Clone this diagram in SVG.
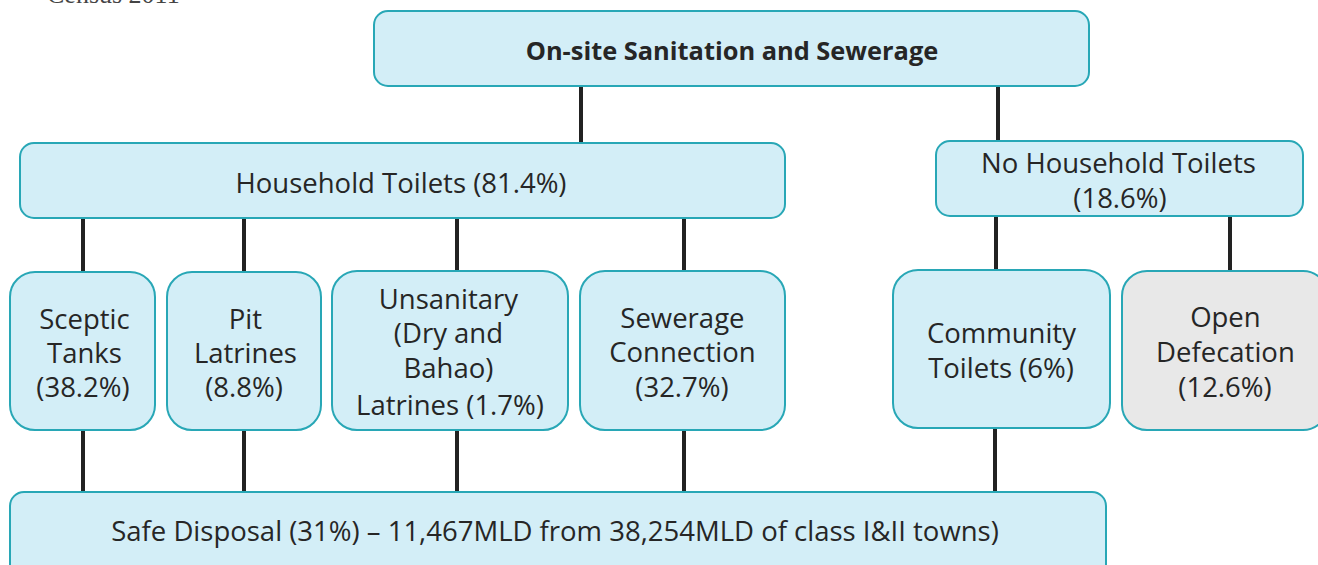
<svg xmlns="http://www.w3.org/2000/svg" width="1318" height="565" viewBox="0 0 1318 565">
<style>
.box{fill:#d3eef7;stroke:#28a7b6;stroke-width:2}
.grey{fill:#e8e8e8;stroke:#28a7b6;stroke-width:2}
.t{font-family:"Open Sans","Noto Sans",sans-serif;font-size:27.5px;fill:#262626;text-anchor:middle;white-space:pre}
.b{font-weight:bold;font-size:25.4px}
.conn line{stroke:#222;stroke-width:4}
</style>
<rect width="1318" height="565" fill="#fff"/>
<text x="47" y="3" font-family="Liberation Serif, serif" font-size="26" fill="#444">Census 2011</text>
<g class="conn">
<line x1="581" y1="86" x2="581" y2="143"/>
<line x1="998" y1="86" x2="998" y2="141"/>
<line x1="83" y1="218" x2="83" y2="272"/>
<line x1="244" y1="218" x2="244" y2="272"/>
<line x1="457" y1="218" x2="457" y2="271"/>
<line x1="684" y1="218" x2="684" y2="271"/>
<line x1="996" y1="216" x2="996" y2="270"/>
<line x1="1230" y1="216" x2="1230" y2="271"/>
<line x1="83" y1="430" x2="83" y2="493"/>
<line x1="244" y1="430" x2="244" y2="493"/>
<line x1="457" y1="430" x2="457" y2="493"/>
<line x1="684" y1="430" x2="684" y2="493"/>
<line x1="995" y1="428" x2="995" y2="493"/>
</g>
<g id="top">
<rect class="box" x="374" y="11" width="715" height="75" rx="14"/>
<text class="t b" x="732" y="60">On-site Sanitation and Sewerage</text>
</g>
<g id="household">
<rect class="box" x="20" y="143" width="765" height="75" rx="14"/>
<text class="t" x="401" y="193" font-size="26.8">Household Toilets (81.4%)</text>
</g>
<g id="nohousehold">
<rect class="box" x="936" y="141" width="367" height="75" rx="14"/>
<text class="t" x="1122" y="173">No Household Toilets </text>
<text class="t" x="1120" y="208">(18.6%)</text>
</g>
<g id="sceptic">
<rect class="box" x="10" y="272" width="145" height="158" rx="25"/>
<text class="t" x="88" y="329">Sceptic </text>
<text class="t" x="88" y="363">Tanks </text>
<text class="t" x="83" y="397">(38.2%)</text>
</g>
<g id="pit">
<rect class="box" x="167" y="272" width="154" height="158" rx="25"/>
<text class="t" x="249" y="329">Pit </text>
<text class="t" x="249" y="363">Latrines </text>
<text class="t" x="244" y="397">(8.8%)</text>
</g>
<g id="unsanitary">
<rect class="box" x="332" y="271" width="236" height="159" rx="25"/>
<text class="t" x="452" y="309">Unsanitary </text>
<text class="t" x="452" y="343">(Dry and </text>
<text class="t" x="452" y="378">Bahao) </text>
<text class="t" x="450" y="415">Latrines (1.7%)</text>
</g>
<g id="sewerage">
<rect class="box" x="580" y="271" width="205" height="159" rx="25"/>
<text class="t" x="686" y="328">Sewerage </text>
<text class="t" x="686" y="362">Connection </text>
<text class="t" x="682" y="397">(32.7%)</text>
</g>
<g id="community">
<rect class="box" x="893" y="270" width="217" height="158" rx="25"/>
<text class="t" x="1005" y="343">Community </text>
<text class="t" x="1001" y="378">Toilets (6%)</text>
</g>
<g id="open">
<rect class="grey" x="1122" y="271" width="206" height="159" rx="25"/>
<text class="t" x="1229" y="327">Open </text>
<text class="t" x="1229" y="362">Defecation </text>
<text class="t" x="1225" y="397">(12.6%)</text>
</g>
<g id="safe">
<rect class="box" x="10" y="492" width="1096" height="90" rx="14"/>
<text class="t" x="555" y="541">Safe Disposal (31%) – 11,467MLD from 38,254MLD of class I&amp;II towns)</text>
</g>
</svg>
